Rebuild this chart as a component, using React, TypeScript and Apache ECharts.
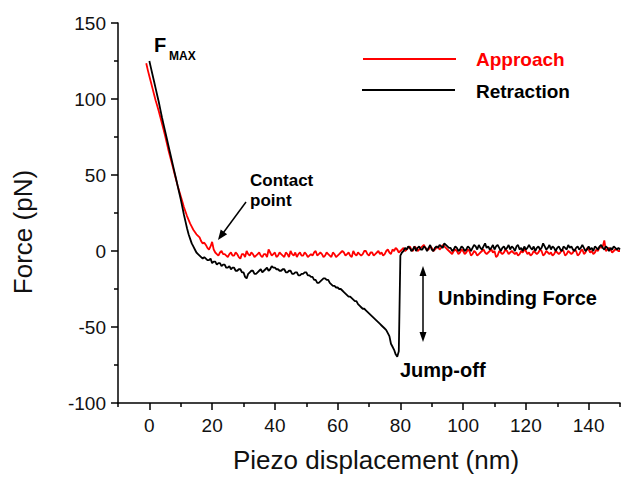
import React, { useEffect, useRef } from "react";
import * as echarts from "echarts";

// Approach curve: x from -1 nm in 0.5 nm steps
const approachStartX = -1;
const approachStepX = 0.5;
const approachForce = [
  123.5, 119, 115, 111, 107, 103, 99, 95.5, 92, 88, 84, 80, 76, 71.5, 67, 63, 59, 55, 51, 47,
  43, 39.5, 36, 32.5, 29, 26, 23, 20.5, 18, 16, 14, 12.5, 11, 10, 9, 6.5, 5, 5.5, 4, 2,
  1, 3, 6, 1, -1, -2, -3, -1, 0, -2, -2, -3, -4, -2, -1, -3, -3, -1, -2, -4,
  -5, -2, -2, -4, 0, -2, -3, -1, -2, -4, -3, -2, -1, -3, -4, -2, -2, -4, 1, -1,
  -3, -2, -1, -4, -3, -1, -2, -3, -4, -1, -2, -4, 0, -2, -3, -1, -4, -2, -1, -3,
  -3, -1, -2, -4, -3, -2, -3, -1, 0, -3, -2, -1, -2, -4, -3, -1, -2, -3, -4, -1,
  -2, -4, -3, -2, -1, 0, -1, -3, -2, -1, -3, -4, 0, -2, -3, -1, -2, -3, -2, 0,
  0, -2, -3, -1, -1, -3, -2, -1, 0, -2, -1, -3, -2, 0, 1, -1, -2, 1, 0, 2,
  1, -1, 0, 1, 2, 0, 1, 2, 3, 1, 0, 3, 2, 0, 1, 2, 3, 4, 2, 1,
  1, 3, 2, 0, 1, 2, 3, 1, 2, 4, 3, 2, 1, 0, -1, -2, 0, 1, 0, -2,
  -1, 1, 0, -2, -1, 1, 0, -3, -2, 0, -1, -3, -2, -1, 0, 1, -1, -2, -1, 0,
  1, -1, 0, -4, -3, 0, -1, -2, -1, 1, 0, -2, -1, 0, -1, -2, -1, -3, -2, 0,
  -1, 1, 0, -2, -1, -3, -2, 0, -1, -2, -1, 1, 0, -3, -2, 0, -1, -2, -1, -3,
  -2, 0, -1, -2, -1, 1, 0, -3, -2, 0, -1, -2, -1, 1, 0, -3, -2, 0, 1, -2,
  -1, 2, 1, -1, 0, -2, -1, 1, 0, 3, 2, 3, 7, 0, 1, 2, 1, -1, 0, 1,
  1, 0, 0,
];

// Retraction curve: x from 0 nm in 0.5 nm steps
const retractionStartX = 0;
const retractionStepX = 0.5;
const retractionForce = [
  125, 120.5, 116, 111.5, 107, 102.5, 98, 93, 88, 83.5, 79, 74.5, 70, 65.5, 61, 56.5, 52, 47.5, 43, 38.5,
  34, 29, 24, 19.5, 15, 11, 8, 5, 3, 1, -1, -2, -3, -4, -5, -4, -5, -6, -6, -5,
  -8, -7, -7, -9, -8, -8, -10, -9, -9, -11, -11, -10, -12, -11, -11, -13, -13, -12, -12, -14,
  -14, -17, -18, -15, -14, -13, -13, -15, -15, -14, -13, -12, -14, -13, -12, -11, -13, -12, -10, -11,
  -11, -12, -12, -13, -13, -12, -12, -14, -14, -13, -13, -15, -15, -14, -14, -16, -16, -15, -15, -14,
  -14, -16, -16, -17, -17, -19, -19, -21, -21, -20, -19, -18, -18, -19, -19, -21, -22, -23, -23, -24,
  -24, -25, -25, -26, -27, -28, -29, -30, -30, -31, -32, -33, -33, -35, -36, -37, -38, -38, -39, -40,
  -41, -42, -43, -44, -45, -46, -47, -48, -49, -50, -51, -52, -54, -56, -61, -63, -65, -68, -69.5, -66,
  -3, -1, 0, 2, 1, 3, 2, 0, 1, 3, 0, 2, 3, 1, 1, 3, 2, 0, 2, 4,
  1, 0, 2, 3, 2, 4, 3, 2, 5, 4, 3, 2, 2, 0, 1, 3, 2, 0, 1, 3,
  2, 0, 1, 3, 2, 0, 2, 4, 3, 1, 4, 2, 1, 3, 5, 2, 3, 1, 2, 4,
  1, 3, 4, 2, 0, 2, 3, 1, 2, 4, 1, 3, 2, 0, 3, 4, 1, 2, 0, 3,
  1, 2, 4, 2, 1, 3, 0, 2, 3, 1, 2, 5, 3, 1, 2, 4, 1, 3, 2, 0,
  2, 3, 1, 0, 3, 2, 1, 4, 2, 3, 1, 0, 2, 3, 1, 2, 4, 2, 0, 1,
  3, 1, 2, 0, 3, 2, 1, 3, 4, 2, 1, 3, 2, 0, 2, 1, 3, 2, 1, 2,
  1,
];

const xMajorTicks = [0, 20, 40, 60, 80, 100, 120, 140];
const xMinorTicks = [-10, 10, 30, 50, 70, 90, 110, 130, 150];

const FONT = "'Liberation Sans', Arial, sans-serif";

export default function App() {
  const ref = useRef<HTMLDivElement>(null);

  useEffect(() => {
    if (!ref.current) return;
    const chart = echarts.init(ref.current, null, { renderer: "svg" });

    const approachData = approachForce.map((v, i) => [approachStartX + i * approachStepX, v]);
    const retractionData = retractionForce.map((v, i) => [retractionStartX + i * retractionStepX, v]);

    const axisColor = "#000";
    const labelStyle = { color: "#111", fontSize: 19, fontFamily: FONT };

    const arrowHead = (tip: number[], dir: number[], len: number, half: number) => {
      const l = Math.hypot(dir[0], dir[1]);
      const u = [dir[0] / l, dir[1] / l];
      const b = [tip[0] - len * u[0], tip[1] - len * u[1]];
      const n = [-u[1], u[0]];
      return {
        type: "polygon",
        shape: {
          points: [
            tip,
            [b[0] + half * n[0], b[1] + half * n[1]],
            [b[0] - half * n[0], b[1] - half * n[1]],
          ],
        },
        style: { fill: "#000" },
        z: 100,
      };
    };

    const boldText = (x: number, y: number, text: string, size: number, color = "#000") => ({
      type: "text",
      x,
      y,
      style: {
        text,
        fill: color,
        font: `bold ${size}px ${FONT}`,
        textAlign: "left",
        textVerticalAlign: "middle",
      },
      z: 100,
    });

    chart.setOption({
      animation: false,
      backgroundColor: "#fff",
      grid: { left: 118, right: 13, top: 23, bottom: 74, containLabel: false },
      xAxis: [
        {
          type: "value",
          min: -10,
          max: 150,
          position: "bottom",
          axisLine: { show: true, onZero: false, lineStyle: { color: axisColor, width: 1.5 } },
          axisTick: {
            show: true,
            inside: false,
            length: 7,
            customValues: xMajorTicks,
            lineStyle: { color: axisColor, width: 1.5 },
          },
          axisLabel: { ...labelStyle, margin: 13, customValues: xMajorTicks },
          splitLine: { show: false },
        },
        {
          type: "value",
          min: -10,
          max: 150,
          position: "bottom",
          axisLine: { show: false, onZero: false },
          axisTick: {
            show: true,
            inside: false,
            length: 4,
            customValues: xMinorTicks,
            lineStyle: { color: axisColor, width: 1.5 },
          },
          axisLabel: { show: false },
          splitLine: { show: false },
        },
      ],
      yAxis: {
        type: "value",
        min: -100,
        max: 150,
        interval: 50,
        axisLine: { show: true, onZero: false, lineStyle: { color: axisColor, width: 1.5 } },
        axisTick: { show: true, inside: false, length: 7, lineStyle: { color: axisColor, width: 1.5 } },
        minorTick: { show: true, splitNumber: 2, length: 4, lineStyle: { color: axisColor, width: 1.5 } },
        axisLabel: { ...labelStyle, margin: 12 },
        splitLine: { show: false },
      },
      series: [
        {
          name: "Approach",
          type: "line",
          data: approachData,
          showSymbol: false,
          symbol: "none",
          lineStyle: { color: "#ff0000", width: 1.8 },
          z: 2,
        },
        {
          name: "Retraction",
          type: "line",
          data: retractionData,
          showSymbol: false,
          symbol: "none",
          lineStyle: { color: "#000000", width: 1.8 },
          z: 3,
        },
      ],
      graphic: [
        {
          type: "text",
          x: 23,
          y: 232,
          rotation: Math.PI / 2,
          style: {
            text: "Force (pN)",
            fill: "#111",
            font: `26px ${FONT}`,
            textAlign: "center",
            textVerticalAlign: "middle",
          },
        },
        {
          type: "text",
          x: 376,
          y: 460,
          style: {
            text: "Piezo displacement (nm)",
            fill: "#111",
            font: `26px ${FONT}`,
            textAlign: "center",
            textVerticalAlign: "middle",
          },
        },
        // Legend
        { type: "line", shape: { x1: 363, y1: 59, x2: 456, y2: 59 }, style: { stroke: "#ff0000", lineWidth: 2 } },
        { type: "line", shape: { x1: 362, y1: 90, x2: 455, y2: 90 }, style: { stroke: "#000", lineWidth: 2 } },
        boldText(476, 59, "Approach", 19, "#ff0000"),
        boldText(476, 91, "Retraction", 19, "#000"),
        // F_MAX
        boldText(154, 45, "F", 20),
        boldText(169, 56, "MAX", 12),
        // Contact point
        boldText(250, 180, "Contact", 17),
        boldText(250, 200, "point", 17),
        { type: "line", shape: { x1: 246, y1: 202, x2: 223.5, y2: 232.5 }, style: { stroke: "#000", lineWidth: 1.5 }, z: 100 },
        arrowHead([218, 240], [-28, 38], 10, 4),
        // Unbinding force double arrow
        { type: "line", shape: { x1: 423, y1: 274, x2: 423, y2: 334 }, style: { stroke: "#000", lineWidth: 1.5 }, z: 100 },
        arrowHead([423, 266], [0, -1], 10, 3.5),
        arrowHead([423, 342], [0, 1], 10, 3.5),
        boldText(438, 298, "Unbinding Force", 20),
        boldText(400, 370, "Jump-off", 20),
      ],
    });

    return () => chart.dispose();
  }, []);

  return (
    <div
      ref={ref}
      style={{ position: "fixed", left: 0, top: 0, width: 633, height: 477, background: "#fff" }}
    />
  );
}
